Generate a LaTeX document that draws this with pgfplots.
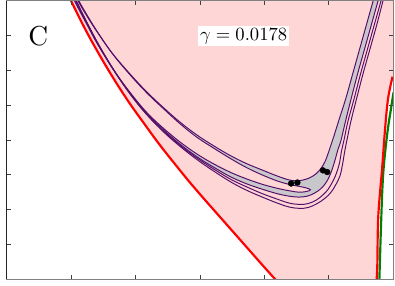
\documentclass[border=0pt]{standalone}
\usepackage{pgfplots}
\pgfplotsset{compat=1.18}
\definecolor{pinkfill}{RGB}{255,214,214}
\definecolor{greyfill}{RGB}{200,200,204}
\definecolor{purp}{RGB}{85,15,105}
\definecolor{grn}{RGB}{0,128,0}
\begin{document}
\begin{tikzpicture}
\begin{axis}[
  width=393bp, height=283bp, scale only axis,
  xmin=0, xmax=393, ymin=0, ymax=283,
  xtick={65.5,131,196.5,262,327.5},
  ytick={35.4,70.8,106.2,141.6,177,212.4,247.8},
  xticklabels={}, yticklabels={},
  tick align=inside, major tick length=4bp,
  tick style={black!75, line width=0.7bp},
  axis line style={black!50, line width=1bp},
  axis on top,
  clip=true,
  every axis plot/.append style={smooth, tension=0.6},
]
% pink region between the two red curves
\addplot[fill=pinkfill, draw=none, sharp plot] coordinates {
(63,288)(65,284)(80,254)(95,227)(110,202)(125,179)(140,158)(155,137.5)(170,118.5)(185,100)(200,82.5)(215,65.5)(230,48.5)(245,31.5)(260,14.5)(273,0)(276.5,-4)
(376,-4)(377,14)(378,64)(382,114)(385,154)(388,184)(392.5,206)(400,212)(400,292)(60,292)} -- cycle;
% grey band: I forward, L reversed
\addplot[fill=greyfill, draw=none] coordinates {
(71,288)(72,284)(82,267)(93,250)(108,229)(127,207)(143,190)(160,174)(176,160)(193,147)(210,136)(227,126)(243,118)(260,111)(275,105)(287,101)(295,100)(302,101)(309,103.5)(315,107.5)(320,113)(324,120)(327,128)(330,137)(333,146)(338,162)(345,184)(352,209)(359,234)(366,259)(373,284)(374,288)
(379,288)(378,284)(371,259)(364,234)(357,209)(350.5,184)(344.5,160)(340,141)(337,132)(334.5,123)(331.5,113)(328,104)(324,97)(319,91.5)(313,87.5)(306,84.5)(297,83.5)(287,84.5)(275,87)(260,91.5)(244,97)(228,104)(212,113)(195,123.5)(178,136)(161,150.5)(144,167)(128,186)(111,209.5)(94,237)(81,261.5)(69.5,284)(68.5,288)} -- cycle;
% pink tongue: T1 then T2
\addplot[fill=pinkfill, draw=none] coordinates {
(72.5,288)(73,284)(83,266.5)(94,249)(109,227.5)(128,205)(144,188)(161,172)(177,157.5)(194,144)(211,133)(228,122.5)(244,113.5)(260,106)(275,100)(287,96.5)(297,94.5)(304,93)(309,91)
(305,89.2)(297,88.5)(287,90)(275,92.5)(260,96.5)(244,102)(228,108.5)(211,117)(194,127)(177,139)(160,153)(143,169)(127,188)(110,211)(93,238)(80,262)(68.5,284)(67.5,288)} -- cycle;
% purple contour lines
\addplot[purp, line width=1bp] coordinates {
(71,288)(72,284)(82,267)(93,250)(108,229)(127,207)(143,190)(160,174)(176,160)(193,147)(210,136)(227,126)(243,118)(260,111)(275,105)(287,101)(295,100)(302,101)(309,103.5)(315,107.5)(320,113)(324,120)(327,128)(330,137)(333,146)(338,162)(345,184)(352,209)(359,234)(366,259)(373,284)(374,288)};
\addplot[purp, line width=1bp] coordinates {
(72.5,288)(73,284)(83,266.5)(94,249)(109,227.5)(128,205)(144,188)(161,172)(177,157.5)(194,144)(211,133)(228,122.5)(244,113.5)(260,106)(275,100)(287,96.5)(297,94.5)(304,93)(309,91)
(305,89.2)(297,88.5)(287,90)(275,92.5)(260,96.5)(244,102)(228,108.5)(211,117)(194,127)(177,139)(160,153)(143,169)(127,188)(110,211)(93,238)(80,262)(68.5,284)(67.5,288)};
\addplot[purp, line width=1bp] coordinates {
(68.5,288)(69.5,284)(81,261.5)(94,237)(111,209.5)(128,186)(144,167)(161,150.5)(178,136)(195,123.5)(212,113)(228,104)(244,97)(260,91.5)(275,87)(287,84.5)(297,83.5)(306,84.5)(313,87.5)(319,91.5)(324,97)(328,104)(331.5,113)(334.5,123)(337,132)(340,141)(344.5,160)(350.5,184)(357,209)(364,234)(371,259)(378,284)(379,288)};
\addplot[purp, line width=1bp] coordinates {
(69,288)(70,284)(81.5,261)(95,236)(112,208)(129,184)(145,165)(162,148.5)(179,134)(196,121.5)(213,110.5)(229,101)(245,93.5)(260,87)(275,81.5)(287,77.5)(298,76)(307,77)(315,80.5)(322,86)(327,91.5)(332,100)(335.5,108)(338.5,118)(340.5,130)(343,141)(347,160)(353.5,184)(360,209)(367,234)(374,259)(381,284)(382,288)};
\addplot[purp, line width=1bp] coordinates {
(69.5,288)(70.5,284)(82,260.5)(95.5,235)(112.5,207)(129.5,183)(145.5,164)(162.5,147)(179.5,132.5)(196.5,119.5)(213.5,108)(229.5,98)(245,90)(260,83.5)(275,77.5)(287,73.5)(298,72)(307,73)(316,77)(324,82.5)(330,88.5)(335,96.5)(339,105)(341.5,116)(343.5,128)(346,141)(350,160)(356,184)(362.5,209)(369.5,234)(376.5,259)(383,284)(384,288)};
% black points
\addplot[only marks, mark=*, mark size=3bp, black] coordinates {(289.3,97.3)(295.7,98.3)(321.7,110.7)(326,109)};
% red and green boundaries
\addplot[red, line width=2.2bp] coordinates {
(63,288)(65,284)(80,254)(95,227)(110,202)(125,179)(140,158)(155,137.5)(170,118.5)(185,100)(200,82.5)(215,65.5)(230,48.5)(245,31.5)(260,14.5)(273,0)(276.5,-4)};
\addplot[grn, line width=2.2bp] coordinates {
(393.5,190)(391,174)(387,147)(383,107)(381,61)(379,-4)};
\addplot[red, line width=2.2bp] coordinates {
(392.5,206)(388,184)(385,154)(382,114)(378,64)(377,14)(376,-4)};
\node[scale=2.8] at (axis cs:32,247.5) {C};
\node[fill=white, inner sep=1.2bp, scale=1.9] at (axis cs:241,247) {$\gamma = 0.0178$};
\end{axis}
\draw[black!85, line width=1.4bp] (0,0) -- (0,283bp);
\path (-1bp,-2bp) rectangle (395bp,284bp);
\end{tikzpicture}
\end{document}
